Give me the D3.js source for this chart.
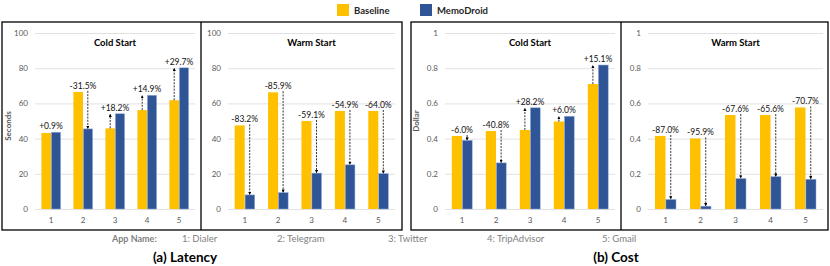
<!DOCTYPE html>
<html>
<head>
<meta charset="utf-8">
<script src="https://cdn.jsdelivr.net/npm/d3@7"></script>
<style>
  body { margin: 0; background: #fff; }
  text { font-family: Lato, "Open Sans", sans-serif; }
</style>
</head>
<body>
<div id="chart"></div>
<script>
// ---- data ----
var categories = ["1", "2", "3", "4", "5"];
var appNames = ["1: Dialer", "2: Telegram", "3: Twitter", "4: TripAdvisor", "5: Gmail"];
var seriesNames = ["Baseline", "MemoDroid"];

var latencyColdBaseline = [43.2, 66.5, 45.8, 56.2, 61.8];
var latencyColdMemo     = [43.6, 45.5, 54.1, 64.6, 80.2];
var latencyColdLabels   = ["+0.9%", "-31.5%", "+18.2%", "+14.9%", "+29.7%"];

var latencyWarmBaseline = [47.5, 66.3, 50.0, 55.7, 55.7];
var latencyWarmMemo     = [8.0, 9.3, 20.4, 25.1, 20.1];
var latencyWarmLabels   = ["-83.2%", "-85.9%", "-59.1%", "-54.9%", "-64.0%"];

var costColdBaseline = [0.415, 0.443, 0.449, 0.497, 0.710];
var costColdMemo     = [0.390, 0.262, 0.575, 0.527, 0.818];
var costColdLabels   = ["-6.0%", "-40.8%", "+28.2%", "+6.0%", "+15.1%"];

var costWarmBaseline = [0.415, 0.401, 0.534, 0.534, 0.577];
var costWarmMemo     = [0.054, 0.016, 0.173, 0.184, 0.169];
var costWarmLabels   = ["-87.0%", "-95.9%", "-67.6%", "-65.6%", "-70.7%"];

var latencyTicks = [0, 20, 40, 60, 80, 100];
var costTicks = [0, 0.2, 0.4, 0.6, 0.8, 1];

// ---- layout ----
var W = 830, H = 266;
var yTop = 33, yBottom = 209;
var colors = { Baseline: "#FFC000", MemoDroid: "#2F5597" };

var panels = [
  { title: "Cold Start", base: latencyColdBaseline, memo: latencyColdMemo, labels: latencyColdLabels,
    ticks: latencyTicks, max: 100, x0: 35, x1: 195 },
  { title: "Warm Start", base: latencyWarmBaseline, memo: latencyWarmMemo, labels: latencyWarmLabels,
    ticks: latencyTicks, max: 100, x0: 228, x1: 395 },
  { title: "Cold Start", base: costColdBaseline, memo: costColdMemo, labels: costColdLabels,
    ticks: costTicks, max: 1, x0: 445, x1: 615 },
  { title: "Warm Start", base: costWarmBaseline, memo: costWarmMemo, labels: costWarmLabels,
    ticks: costTicks, max: 1, x0: 648, x1: 823 }
];

var appNameX = [182, 277, 388, 487, 602];

var svg = d3.select("#chart").append("svg")
  .attr("width", W)
  .attr("height", H);

var defs = svg.append("defs");
defs.append("marker")
  .attr("id", "arrow")
  .attr("viewBox", "0 0 6 6")
  .attr("refX", 5).attr("refY", 3)
  .attr("markerWidth", 4).attr("markerHeight", 4)
  .attr("orient", "auto")
  .append("path")
  .attr("d", "M0,0 L6,3 L0,6 Z")
  .attr("fill", "#000");

// outer boxes
[[2, 201, 402], [411, 621, 828]].forEach(function (b) {
  svg.append("rect")
    .attr("x", b[0]).attr("y", 22)
    .attr("width", b[2] - b[0]).attr("height", 208)
    .attr("fill", "none").attr("stroke", "#000").attr("stroke-width", 1.3);
  svg.append("line")
    .attr("x1", b[1]).attr("x2", b[1]).attr("y1", 22).attr("y2", 230)
    .attr("stroke", "#000").attr("stroke-width", 1.3);
});

panels.forEach(function (p) {
  var g = svg.append("g");

  var x = d3.scaleBand()
    .domain(categories)
    .range([p.x0, p.x1])
    .paddingInner(0.4)
    .paddingOuter(0.2);

  var xs = d3.scaleBand()
    .domain(seriesNames)
    .range([0, x.bandwidth()]);

  var y = d3.scaleLinear()
    .domain([0, p.max])
    .range([yBottom, yTop]);

  // gridlines
  var yAxis = d3.axisLeft(y)
    .tickValues(p.ticks)
    .tickSize(-(p.x1 - p.x0))
    .tickPadding(7)
    .tickFormat(d3.format("~g"));
  var ya = g.append("g")
    .attr("transform", "translate(" + p.x0 + ",0)")
    .call(yAxis);
  ya.select(".domain").remove();
  ya.selectAll(".tick line").attr("stroke", "#D9D9D9").attr("stroke-width", 0.8);
  ya.selectAll(".tick text")
    .attr("fill", "#595959")
    .style("font-size", "8px")
    .style("font-family", "Lato, sans-serif");

  var xAxis = d3.axisBottom(x).tickSize(0).tickPadding(8);
  var xa = g.append("g")
    .attr("transform", "translate(0," + yBottom + ")")
    .call(xAxis);
  xa.select(".domain").remove();
  xa.selectAll(".tick text")
    .attr("fill", "#595959")
    .style("font-size", "8px")
    .style("font-family", "Lato, sans-serif");

  // title
  g.append("text")
    .attr("x", (p.x0 + p.x1) / 2)
    .attr("y", 46)
    .attr("text-anchor", "middle")
    .style("font-size", "9.5px")
    .style("font-weight", "bold")
    .text(p.title);

  var rows = categories.map(function (c, i) {
    return { cat: c, base: p.base[i], memo: p.memo[i], label: p.labels[i] };
  });

  // bars
  rows.forEach(function (d) {
    g.append("rect")
      .attr("x", x(d.cat) + xs("Baseline"))
      .attr("y", y(d.base))
      .attr("width", xs.bandwidth())
      .attr("height", yBottom - y(d.base))
      .attr("fill", colors.Baseline);
    g.append("rect")
      .attr("x", x(d.cat) + xs("MemoDroid") + 0.4)
      .attr("y", y(d.memo))
      .attr("width", xs.bandwidth() - 0.4)
      .attr("height", yBottom - y(d.memo))
      .attr("fill", colors.MemoDroid)
      .attr("stroke", "#8FAADC")
      .attr("stroke-width", 0.5);
  });

  // arrows & labels
  rows.forEach(function (d) {
    var up = d.memo >= d.base;
    var ax = up ? x(d.cat) + xs("Baseline") + xs.bandwidth() / 2
                : x(d.cat) + xs("MemoDroid") + xs.bandwidth() / 2;
    var yFrom = y(d.base);
    var yTo = y(d.memo);
    if (Math.abs(yTo - yFrom) > 3) {
      g.append("line")
        .attr("x1", ax).attr("x2", ax)
        .attr("y1", up ? yFrom : yFrom - 1)
        .attr("y2", up ? yTo + 0.5 : yTo - 0.5)
        .attr("stroke", "#000")
        .attr("stroke-width", 0.8)
        .attr("stroke-dasharray", "2,1.2")
        .attr("marker-end", "url(#arrow)");
    }
    var ly = Math.min(yFrom, yTo) - 3;
    g.append("text")
      .attr("x", x(d.cat) + x.bandwidth() / 2)
      .attr("y", ly)
      .attr("text-anchor", "middle")
      .style("font-size", "8.5px")
      .attr("fill", "#111")
      .text(d.label);
  });
});

// y axis titles
svg.append("text")
  .attr("transform", "translate(11,126) rotate(-90)")
  .attr("text-anchor", "middle")
  .attr("fill", "#595959")
  .style("font-size", "8px")
  .style("font-weight", "bold")
  .text("Seconds");
svg.append("text")
  .attr("transform", "translate(419,121) rotate(-90)")
  .attr("text-anchor", "middle")
  .attr("fill", "#595959")
  .style("font-size", "8px")
  .style("font-weight", "bold")
  .text("Dollar");

// legend
var legendX = [337, 420];
seriesNames.forEach(function (s, i) {
  svg.append("rect")
    .attr("x", legendX[i]).attr("y", 4)
    .attr("width", 12).attr("height", 12)
    .attr("fill", colors[s]);
  svg.append("text")
    .attr("x", legendX[i] + 17).attr("y", 14)
    .style("font-size", "9.5px")
    .style("font-weight", "bold")
    .attr("fill", "#262626")
    .text(s);
});

// app names
svg.append("text")
  .attr("x", 112).attr("y", 242)
  .attr("fill", "#7F7F7F")
  .style("font-size", "9px")
  .style("font-weight", "bold")
  .text("App Name:");
appNames.forEach(function (n, i) {
  svg.append("text")
    .attr("x", appNameX[i]).attr("y", 242)
    .attr("fill", "#7F7F7F")
    .style("font-size", "9.5px")
    .text(n);
});

// captions
svg.append("text")
  .attr("x", 185).attr("y", 262)
  .attr("text-anchor", "middle")
  .style("font-size", "13.5px")
  .style("font-weight", "bold")
  .text("(a) Latency");
svg.append("text")
  .attr("x", 616).attr("y", 262)
  .attr("text-anchor", "middle")
  .style("font-size", "13.5px")
  .style("font-weight", "bold")
  .text("(b) Cost");
</script>
</body>
</html>
